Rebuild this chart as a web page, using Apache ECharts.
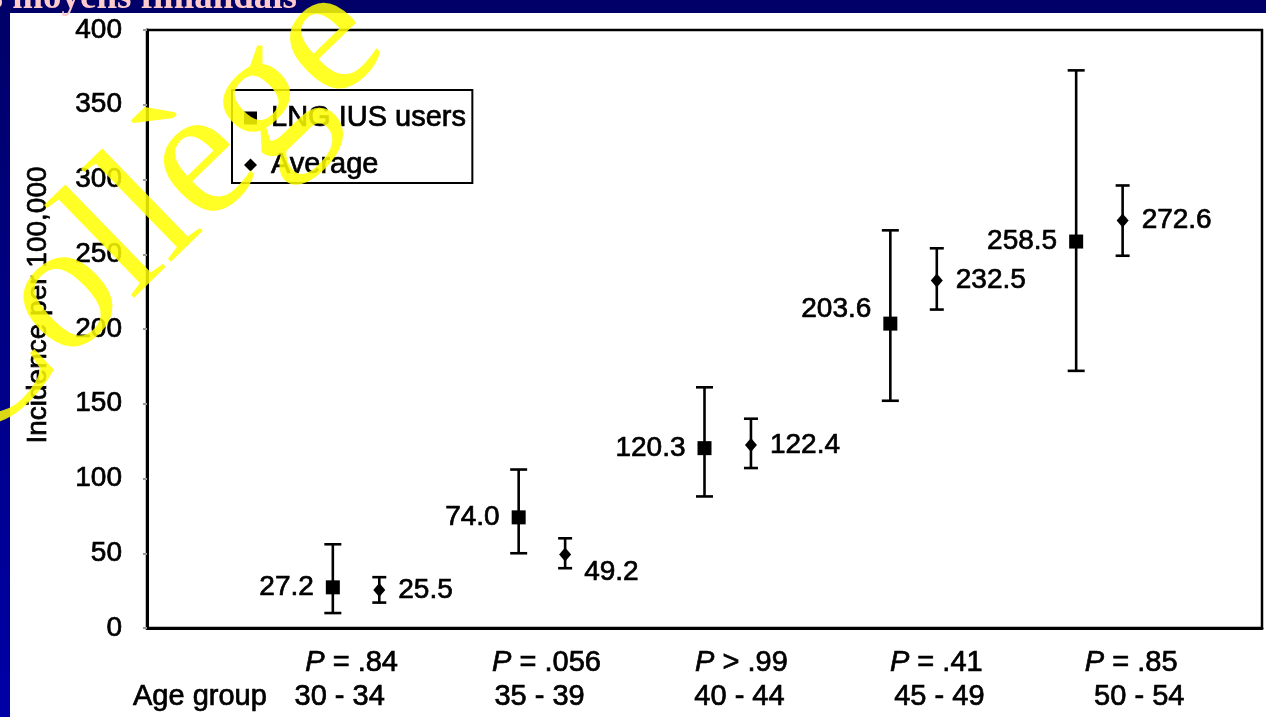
<!DOCTYPE html>
<html>
<head>
<meta charset="utf-8">
<script src="https://cdn.jsdelivr.net/npm/echarts@6/dist/echarts.min.js"></script>
<style>
html,body{margin:0;padding:0;width:1266px;height:717px;overflow:hidden;background:#000070;}
#c{width:1266px;height:717px;}
</style>
</head>
<body>
<div id="c"></div>
<script>
// ---- data ----
const ageGroups = ['30 - 34', '35 - 39', '40 - 44', '45 - 49', '50 - 54'];
const pLabels = ['P = .84', 'P = .056', 'P > .99', 'P = .41', 'P = .85'];
const lngValues = [27.2, 74.0, 120.3, 203.6, 258.5];
const lngLow = [10, 50, 88, 152, 172];
const lngHigh = [56, 106, 161, 266, 373];
const avgValues = [25.5, 49.2, 122.4, 232.5, 272.6];
const avgLow = [17, 40, 107, 213, 249];
const avgHigh = [34, 60, 140, 254, 296];
const yTicks = [0, 50, 100, 150, 200, 250, 300, 350, 400];

// ---- chart ----
const FONT = '"Liberation Sans", Arial, Helvetica, sans-serif';
const chart = echarts.init(document.getElementById('c'), null, {renderer: 'canvas'});

const AVG_SHIFT = 0.25;
const lngPts = lngValues.map((v, i) => [i + 1, v]);
const avgPts = avgValues.map((v, i) => [i + 1 + AVG_SHIFT, v]);
const lngErr = lngValues.map((v, i) => [i + 1, lngLow[i], lngHigh[i]]);
const avgErr = avgValues.map((v, i) => [i + 1 + AVG_SHIFT, avgLow[i], avgHigh[i]]);

const labelNudgeLng = {3: [0, -14]};
const labelNudgeAvg = {1: [0, 18]};

// slight stroke to mimic the heavier scanned type
const THICK = {textBorderColor: '#000', textBorderWidth: 0.7};

function errRender(capW) {
  return function (params, api) {
    const x = api.value(0), lo = api.value(1), hi = api.value(2);
    const a = api.coord([x, hi]), b = api.coord([x, lo]);
    const st = {stroke: '#000', lineWidth: 2.6};
    return {
      type: 'group',
      children: [
        {type: 'line', shape: {x1: a[0], y1: a[1], x2: b[0], y2: b[1]}, style: st},
        {type: 'line', shape: {x1: a[0] - capW / 2, y1: a[1], x2: a[0] + capW / 2, y2: a[1]}, style: st},
        {type: 'line', shape: {x1: b[0] - capW / 2, y1: b[1], x2: b[0] + capW / 2, y2: b[1]}, style: st}
      ]
    };
  };
}

const GRID = {left: 147, right: 4, top: 30, bottom: 89};

const option = {
  animation: false,
  backgroundColor: {
    type: 'linear', x: 0, y: 0, x2: 0, y2: 1,
    colorStops: [{offset: 0, color: '#000068'}, {offset: 1, color: '#0000a6'}]
  },
  textStyle: {fontFamily: FONT},
  grid: Object.assign({show: true, borderColor: '#000', borderWidth: 2.5, backgroundColor: 'transparent'}, GRID),
  legend: {
    left: 232, top: 90,
    orient: 'vertical',
    backgroundColor: '#fff',
    borderColor: '#000', borderWidth: 2,
    padding: [13, 6, 3, 12],
    itemGap: 17,
    itemWidth: 13, itemHeight: 13,
    itemStyle: {opacity: 1},
    textStyle: Object.assign({fontSize: 29, color: '#000', fontFamily: FONT, lineHeight: 30, padding: [0, 0, 0, 9]}, THICK),
    data: [
      {name: 'LNG IUS users', icon: 'rect'},
      {name: 'Average', icon: 'diamond'}
    ]
  },
  xAxis: [
    {
      type: 'value', min: 0, max: 6, gridIndex: 0,
      axisLine: {show: true, lineStyle: {color: '#000', width: 3}},
      axisTick: {show: false}, axisLabel: {show: false}, splitLine: {show: false}
    },
    {
      type: 'value', min: -0.0499, max: 5.671, gridIndex: 0, position: 'bottom',
      axisLine: {show: false}, axisTick: {show: false}, splitLine: {show: false},
      axisLabel: {
        show: true, margin: 20, customValues: [1, 2, 3, 4, 5],
        formatter: function (v) {
          const s = pLabels[Math.round(v) - 1] || '';
          return '{it|' + s.charAt(0) + '}{n|' + s.slice(1) + '}';
        },
        rich: {
          it: Object.assign({fontSize: 29, fontStyle: 'italic', color: '#000', fontFamily: FONT}, THICK),
          n: Object.assign({fontSize: 29, color: '#000', fontFamily: FONT}, THICK)
        }
      }
    },
    {
      type: 'value', min: 0.0362, max: 5.614, gridIndex: 0, position: 'bottom', offset: 34,
      axisLine: {show: false}, axisTick: {show: false}, splitLine: {show: false},
      axisLabel: Object.assign({
        show: true, margin: 20, customValues: [0.301, 1, 2, 3, 4, 5],
        fontSize: 29, color: '#000', fontFamily: FONT,
        formatter: function (v) {
          if (v < 0.9) return 'Age group';
          return ageGroups[Math.round(v) - 1] || '';
        }
      }, THICK)
    }
  ],
  yAxis: {
    type: 'value', min: 0, max: 400, interval: 50,
    name: 'Incidence per 100,000',
    nameLocation: 'middle', nameGap: 95, nameRotate: 90,
    nameTextStyle: Object.assign({fontSize: 28, color: '#000', fontFamily: FONT, padding: [0, 0, 0, 48]}, THICK),
    axisLine: {show: true, lineStyle: {color: '#000', width: 3}},
    axisTick: {show: true, length: 4, lineStyle: {color: '#999', width: 2}},
    axisLabel: Object.assign({fontSize: 28, color: '#000', margin: 25, fontFamily: FONT,
      formatter: function (v) { return yTicks.indexOf(v) >= 0 ? String(v) : ''; }}, THICK),
    splitLine: {show: false}
  },
  series: [
    {
      type: 'custom', name: 'LNG err', xAxisIndex: 0, yAxisIndex: 0, z: 3,
      renderItem: errRender(17), data: lngErr, silent: true
    },
    {
      type: 'custom', name: 'Avg err', xAxisIndex: 0, yAxisIndex: 0, z: 3,
      renderItem: errRender(14), data: avgErr, silent: true
    },
    {
      type: 'scatter', name: 'LNG IUS users', xAxisIndex: 0, z: 5,
      symbol: 'rect', symbolSize: 14,
      itemStyle: {color: '#000', opacity: 1},
      data: lngPts.map((p, i) => ({
        value: p,
        label: labelNudgeLng[i] ? {offset: labelNudgeLng[i]} : undefined
      })),
      label: Object.assign({
        show: true, position: 'left', distance: 12, opacity: 1,
        fontSize: 28, color: '#000', fontFamily: FONT,
        formatter: p => p.value[1].toFixed(1)
      }, THICK)
    },
    {
      type: 'scatter', name: 'Average', xAxisIndex: 0, z: 5,
      symbol: 'diamond', symbolSize: [12, 14],
      itemStyle: {color: '#000', opacity: 1},
      data: avgPts.map((p, i) => ({
        value: p,
        label: labelNudgeAvg[i] ? {offset: labelNudgeAvg[i]} : undefined
      })),
      label: Object.assign({
        show: true, position: 'right', distance: 13, opacity: 1,
        fontSize: 28, color: '#000', fontFamily: FONT,
        formatter: p => p.value[1].toFixed(1)
      }, THICK)
    }
  ],
  graphic: [
    {
      type: 'rect', z: -100, silent: true,
      shape: {x: 10, y: 13, width: 1256, height: 704},
      style: {fill: '#fff'}
    },
    {
      type: 'text', z: 100, silent: true,
      x: 297, y: 17,
      style: {
        text: 's moyens finlandais',
        font: 'bold 37px "Liberation Serif", "Times New Roman", serif',
        fill: '#ffcccc', textAlign: 'right', textVerticalAlign: 'bottom'
      }
    },
    {
      type: 'text', z: 100, silent: true,
      x: 149, y: 215, rotation: 0.77,
      style: {
        text: 'Collège',
        font: '186px "Liberation Serif", "Times New Roman", serif',
        fill: 'rgba(255,255,0,0.85)', textAlign: 'center', textVerticalAlign: 'middle'
      }
    }
  ]
};
chart.setOption(option);
</script>
</body>
</html>
